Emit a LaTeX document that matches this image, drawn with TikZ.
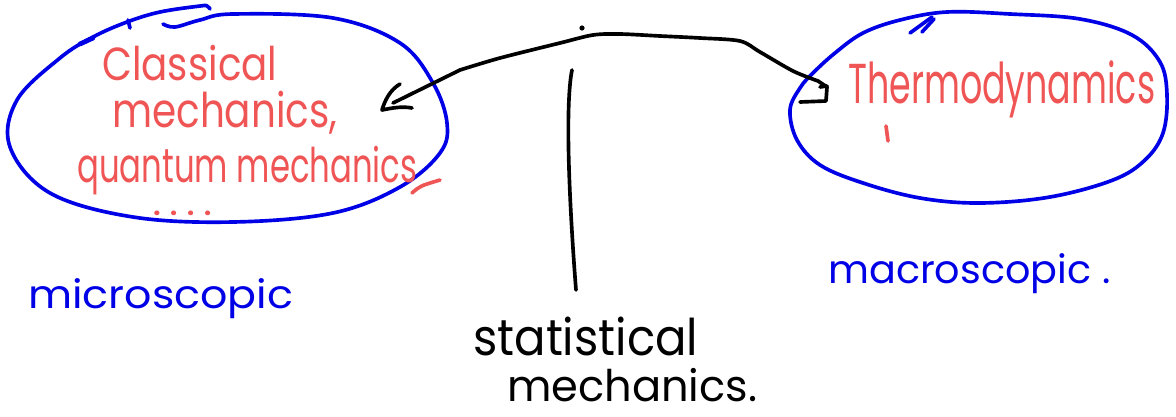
\documentclass[tikz,border=0pt]{standalone}
\usepackage{fontspec}
\setmainfont{Poppins}
\usepackage{graphicx}
\definecolor{inkred}{RGB}{240,85,85}
\definecolor{inkblue}{RGB}{0,0,230}
\tikzset{
  pen/.style={line width=2.6pt, line cap=round, line join=round},
  blueink/.style={pen, draw=inkblue},
  blackink/.style={pen, draw=black},
  redink/.style={pen, draw=inkred},
  hand/.style={inner sep=0pt, anchor=base west},
}
\newcommand{\fitw}[2]{\resizebox{#1}{\height}{#2}}
\begin{document}
\begin{tikzpicture}[x=0.025cm, y=-0.025cm]
\useasboundingbox (0,0) rectangle (1176,416);

% left ellipse (hand drawn, overlapping at top)
\draw[blueink] plot[smooth, tension=0.6] coordinates {
  (163,24) (175,27) (200,20) (233,14) (333,18) (400,43) (433,83) (447,123)
  (440,153) (400,187) (333,213) (233,222) (133,217) (50,193) (10,147)
  (17,100) (60,58) (93,37) (127,22) (160,12) (200,6) (207,6) (210,9)};
\draw[blueink] (128,20) -- (130,28);
\draw[blueink, line width=3.4pt] (80,44) -- (93,38);

% right ellipse
\draw[blueink] plot[smooth cycle, tension=0.6] coordinates {
  (947,12) (1010,14) (1080,19) (1132,35) (1160,62) (1167,95) (1163,133)
  (1145,160) (1113,180) (1050,197) (980,203) (920,198) (863,183) (820,165)
  (797,140) (790,110) (800,88) (813,73) (835,53) (863,33) (900,20)};
\draw[blueink] (910,33) -- (932,17);
\draw[blueink] (922,32) -- (934,19);

% red texts
\node[hand, text=inkred, font=\fontsize{33}{36}\selectfont] (classical) at (102,80) {\fitw{4.375cm}{Classical}};
\node[hand, text=inkred, font=\fontsize{34}{36}\selectfont] (mech) at (112,127) {\fitw{5.625cm}{mechanics,}};
\node[hand, text=inkred, font=\fontsize{34}{36}\selectfont] (quantum) at (77,182) {\fitw{8.5cm}{quantum mechanics}};
\node[hand, text=inkred, font=\fontsize{18}{20}\selectfont\bfseries] (dots) at (153,215) {.\hspace{7pt}.\hspace{7pt}.\hspace{7pt}.};
\draw[redink] (412,193) .. controls (420,186) .. (440,180);
\node[hand, text=inkred, font=\fontsize{40}{44}\selectfont] (thermo) at (848,103) {\fitw{7.675cm}{Thermodynamics}};
\draw[redink] (886,126) -- (888,141);

% blue labels
\node[hand, text=inkblue, font=\fontsize{28}{32}\selectfont] (micro) at (28,308) {\fitw{6.625cm}{microscopic}};
\node[hand, text=inkblue, font=\fontsize{28}{32}\selectfont] (macro) at (828,283) {\fitw{7.05cm}{macroscopic .}};

% black labels
\node[hand, text=black, font=\fontsize{36}{40}\selectfont] (stat) at (473,355) {\fitw{5.625cm}{statistical}};
\node[hand, text=black, font=\fontsize{31}{34}\selectfont] (statmech) at (507,401) {\fitw{6.25cm}{mechanics.}};

% vertical line
\coordinate (vtop) at (572,70);
\coordinate (vbot) at (576,290);
\draw[blackink] (vtop) .. controls (565,105) and (569,200) .. (vbot);

% dot
\fill (582,28) circle (2.6);

% arrow from thermodynamics to classical mechanics
\coordinate (hook) at (800,102);
\coordinate (tip) at (393,103);
\draw[blackink] (hook) -- (826,101) -- (827,87) -- (818,81)
  plot[smooth, tension=0.5] coordinates {(818,81) (793,71) (760,52) (740,41) (700,38) (660,36) (620,34) (593,35) (560,43) (500,58) (460,70)}
  -- (tip);
\draw[blackink] (820,87) -- (827,86);
\draw[blackink] (400,84) .. controls (390,90) and (385,100) .. (382,110) .. controls (392,108) and (402,106) .. (412,108);
\end{tikzpicture}
\end{document}
